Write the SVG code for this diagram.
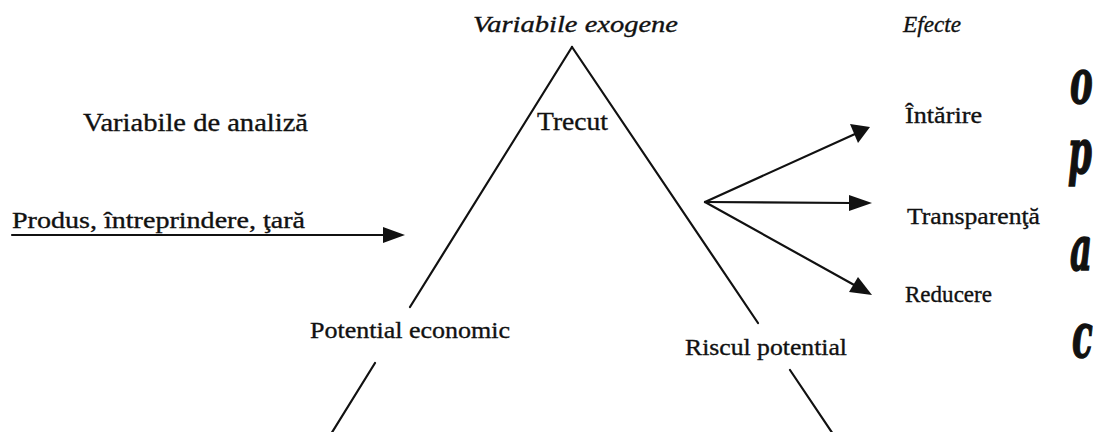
<svg xmlns="http://www.w3.org/2000/svg" width="1093" height="432" viewBox="0 0 1093 432">
<defs>
<style>
text.t{font-family:"Liberation Serif","Times New Roman","DejaVu Serif",serif;fill:#111;stroke:#111;stroke-width:0.35px;}
text.i{font-style:italic;}
.ln{stroke:#111;stroke-width:2.2;fill:none;stroke-linecap:round;}
.ah{fill:#111;}
text.big{font-family:"DejaVu Serif","Liberation Serif",serif;font-weight:bold;font-style:italic;font-size:62px;fill:#111;stroke:#111;stroke-width:1.5px;}
</style>
</defs>
<rect width="1093" height="432" fill="#fff"/>

<g id="triangle">
<line class="ln" x1="572" y1="47" x2="410" y2="307"/>
<line class="ln" x1="375" y1="363" x2="331" y2="434"/>
<line class="ln" x1="572" y1="47" x2="758" y2="323"/>
<line class="ln" x1="790" y1="370" x2="833" y2="434"/>
</g>

<g id="connectors">
<line class="ln" x1="12" y1="235" x2="385" y2="235"/>
<path class="ah" d="M383,227 L405,235 L383,243 Z"/>
<line class="ln" x1="705" y1="202" x2="855" y2="134"/>
<path class="ah" d="M850,124 L870,127 L858,143 Z"/>
<line class="ln" x1="705" y1="202" x2="852" y2="203"/>
<path class="ah" d="M849,195 L872,203 L849,211 Z"/>
<line class="ln" x1="705" y1="202" x2="856" y2="286"/>
<path class="ah" d="M858,277 L872,295 L849,292 Z"/>
</g>

<g id="n-exogene"><text class="t i" font-family="Liberation Serif, serif" x="473" y="32" font-size="24" textLength="205" lengthAdjust="spacingAndGlyphs">Variabile exogene</text></g>
<g id="n-efecte"><text class="t i" font-family="Liberation Serif, serif" x="903" y="32" font-size="24" textLength="58" lengthAdjust="spacingAndGlyphs">Efecte</text></g>
<g id="n-analiza"><text class="t" font-family="Liberation Serif, serif" x="83" y="131" font-size="25" textLength="225" lengthAdjust="spacingAndGlyphs">Variabile de analiză</text></g>
<g id="n-trecut"><text class="t" font-family="Liberation Serif, serif" x="537" y="130" font-size="26" textLength="71" lengthAdjust="spacingAndGlyphs">Trecut</text></g>
<g id="n-produs"><text class="t" font-family="Liberation Serif, serif" x="12" y="228" font-size="24" textLength="293" lengthAdjust="spacingAndGlyphs">Produs, întreprindere, ţară</text></g>
<g id="n-potential"><text class="t" font-family="Liberation Serif, serif" x="310" y="338" font-size="24" textLength="200" lengthAdjust="spacingAndGlyphs">Potential economic</text></g>
<g id="n-riscul"><text class="t" font-family="Liberation Serif, serif" x="685" y="355" font-size="24" textLength="162" lengthAdjust="spacingAndGlyphs">Riscul potential</text></g>
<g id="n-intarire"><text class="t" font-family="Liberation Serif, serif" x="905" y="123" font-size="24" textLength="77" lengthAdjust="spacingAndGlyphs">Întărire</text></g>
<g id="n-transparenta"><text class="t" font-family="Liberation Serif, serif" x="907" y="224" font-size="24" textLength="133" lengthAdjust="spacingAndGlyphs">Transparenţă</text></g>
<g id="n-reducere"><text class="t" font-family="Liberation Serif, serif" x="905" y="302" font-size="24" textLength="87" lengthAdjust="spacingAndGlyphs">Reducere</text></g>

<g id="n-letters">
<text class="big" transform="translate(1070,103) scale(0.55,1)">o</text>
<text class="big" transform="translate(1068,173) scale(0.55,1)">p</text>
<text class="big" transform="translate(1070,270) scale(0.55,1)">a</text>
<text class="big" transform="translate(1072,357) scale(0.55,1)">c</text>
</g>
</svg>
